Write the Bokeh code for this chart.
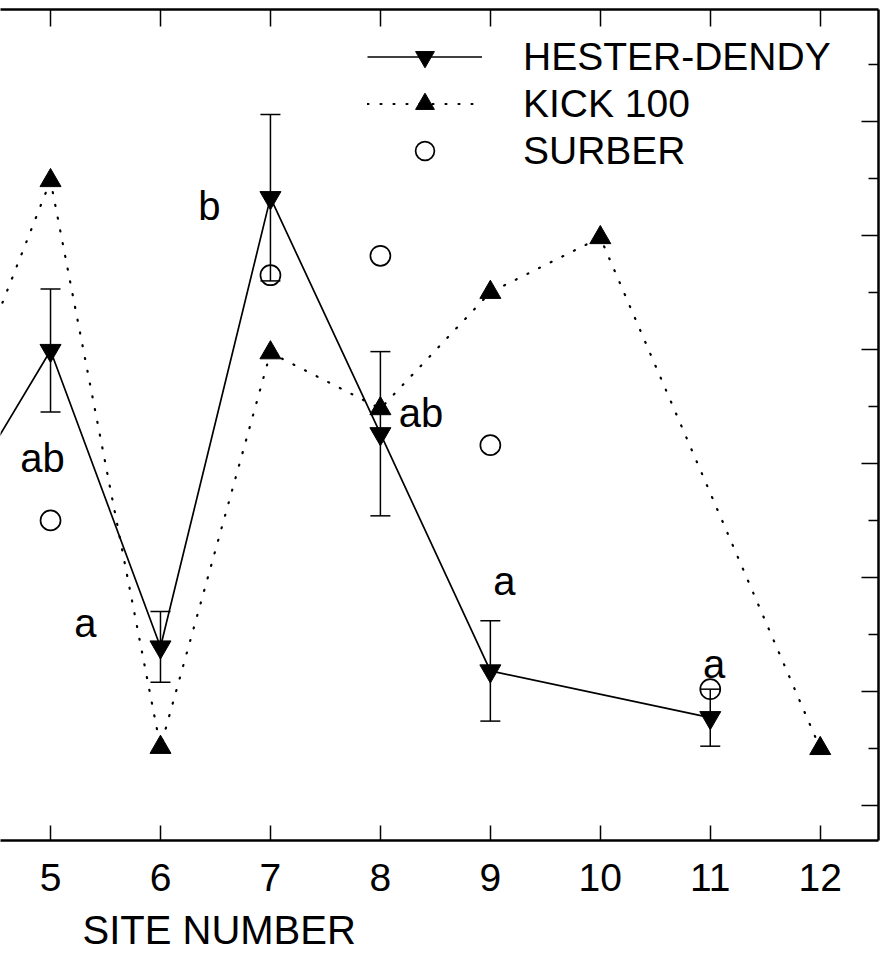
from bokeh.plotting import figure
from bokeh.models import (LinearAxis, FixedTicker, Range1d, ColumnDataSource, Whisker,
                          TeeHead, Legend, LegendItem, Title, CustomJSTickFormatter)
from bokeh.core.properties import value
from bokeh.embed import file_html
from bokeh.resources import INLINE

FONT = "Liberation Sans"

# ---- data (y in arbitrary axis units, left axis cropped away) ----
hd_sites = [4, 5, 6, 7, 8, 9, 11]
hd_mean = [23.8, 39.9, 13.9, 53.3, 32.6, 11.8, 7.7]

hd_err_sites = [5, 6, 7, 8, 9, 11]
hd_err_mean = [39.9, 13.9, 53.3, 32.6, 11.8, 7.7]
hd_err = [5.4, 3.1, 7.3, 7.2, 4.4, 2.5]

kick_sites = [4, 5, 6, 7, 8, 9, 10, 12]
kick_vals = [30.3, 54.8, 5.1, 39.7, 34.8, 45.0, 49.8, 5.0]

surber_sites = [5, 7, 8, 9, 11]
surber_vals = [25.0, 46.5, 48.2, 31.6, 10.2]

letters = ["ab", "a", "b", "ab", "a", "a"]
letter_x = [4.927, 5.318, 6.445, 8.37, 9.127, 11.036]
letter_y = [30.5, 16.0, 52.6, 34.4, 19.7, 12.4]

x_ticks = [1, 2, 3, 4, 5, 6, 7, 8, 9, 10, 11, 12]
y_major = [0, 10, 20, 30, 40, 50, 60, 70]
y_minor = [5, 15, 25, 35, 45, 55, 65]

p = figure(width=880, height=965,
           x_range=Range1d(4.545, 12.53), y_range=Range1d(-3.07, 69.8),
           output_backend="svg", toolbar_location=None, y_axis_location="right",
           min_border_left=0, min_border_right=2, min_border_top=9, min_border_bottom=125)
p.outline_line_color = None
p.grid.visible = False
p.background_fill_color = "white"
p.border_fill_color = "white"

blank = CustomJSTickFormatter(code="return ''")

# bottom axis
xa = p.xaxis[0]
xa.ticker = FixedTicker(ticks=x_ticks, minor_ticks=[])
xa.major_tick_in = 15
xa.major_tick_out = 0
xa.minor_tick_in = 0
xa.minor_tick_out = 0
xa.axis_line_width = 2.5
xa.major_tick_line_width = 1.5
xa.major_label_text_font = FONT
xa.major_label_text_font_size = "39px"
xa.major_label_text_color = "black"
xa.major_label_standoff = 23

# right axis
ya = p.yaxis[0]
ya.ticker = FixedTicker(ticks=y_major, minor_ticks=y_minor)
ya.formatter = blank
ya.major_tick_in = 17
ya.major_tick_out = 0
ya.minor_tick_in = 10
ya.minor_tick_out = 0
ya.axis_line_width = 2.5
ya.major_tick_line_width = 1.5
ya.minor_tick_line_width = 1.5
ya.major_label_standoff = 0

# top axis
top = LinearAxis(ticker=FixedTicker(ticks=x_ticks, minor_ticks=[]), formatter=blank,
                 major_tick_in=17, major_tick_out=0, minor_tick_in=0, minor_tick_out=0,
                 axis_line_width=2.5, major_tick_line_width=1.5, major_label_standoff=0)
p.add_layout(top, "above")

# x-axis title (the plot's left part is cropped, so it sits left of the visible centre)
p.add_layout(Title(text="SITE NUMBER", align="left", offset=82, standoff=24,
                   text_font=FONT, text_font_size="40px", text_font_style="normal",
                   text_color="black"), "below")

# series
hd_src = ColumnDataSource(dict(x=hd_sites, y=hd_mean))
kick_src = ColumnDataSource(dict(x=kick_sites, y=kick_vals))
surber_src = ColumnDataSource(dict(x=surber_sites, y=surber_vals))

err_src = ColumnDataSource(dict(
    x=hd_err_sites,
    upper=[m + e for m, e in zip(hd_err_mean, hd_err)],
    lower=[m - e for m, e in zip(hd_err_mean, hd_err)]))
whisk = Whisker(base="x", upper="upper", lower="lower", source=err_src, dimension="height",
                line_color="black", line_width=1.5,
                upper_head=TeeHead(size=20, line_width=1.5, line_color="black"),
                lower_head=TeeHead(size=20, line_width=1.5, line_color="black"))
p.add_layout(whisk)

hd_line = p.line("x", "y", source=hd_src, line_color="black", line_width=1.7)
kick_line = p.line("x", "y", source=kick_src, line_color="black", line_width=2.2,
                   line_dash="1 12", line_cap="round")
hd_pts = p.scatter("x", "y", source=hd_src, marker="inverted_triangle", size=21,
                   fill_color="black", line_color="black")
kick_pts = p.scatter("x", "y", source=kick_src, marker="triangle", size=21,
                     fill_color="black", line_color="black")
surber_pts = p.scatter("x", "y", source=surber_src, marker="circle", size=20,
                       fill_color=None, line_color="black", line_width=1.7)

p.text(x=letter_x, y=letter_y, text=letters, text_font=value(FONT), text_font_size="40px",
       text_align="center", text_baseline="alphabetic", text_color="black")

legend = Legend(items=[LegendItem(label="HESTER-DENDY", renderers=[hd_line, hd_pts]),
                       LegendItem(label="KICK 100", renderers=[kick_line, kick_pts]),
                       LegendItem(label="SURBER", renderers=[surber_pts])],
                location=(367, 666), glyph_width=115, glyph_height=47, label_height=47,
                label_standoff=41, spacing=0, padding=0, margin=0,
                border_line_color=None, background_fill_alpha=0,
                label_text_font=FONT, label_text_font_size="39px", label_text_color="black")
p.add_layout(legend)

open("out.html", "w").write(file_html(p, INLINE))
